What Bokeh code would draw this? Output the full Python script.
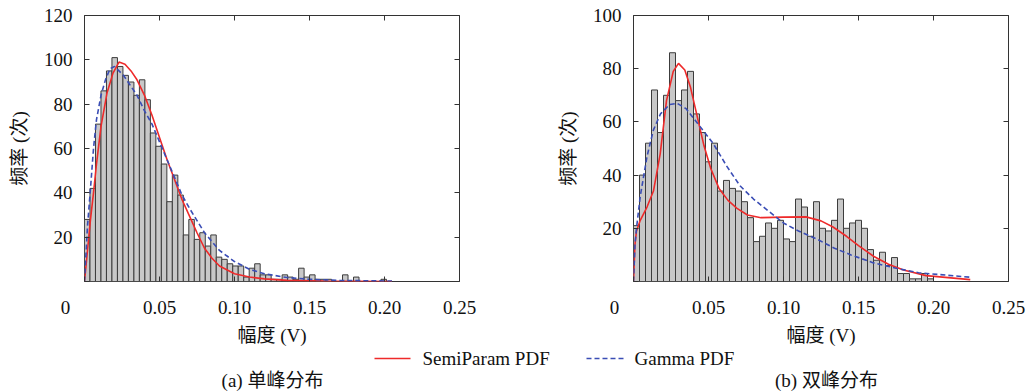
import numpy as np
from bokeh.plotting import figure
from bokeh.models import Range1d, LinearAxis, FixedTicker, ColumnDataSource, CustomJSTickFormatter
from bokeh.layouts import row, column
from bokeh.embed import file_html
from bokeh.resources import INLINE
from bokeh.core.properties import value

# ---------------- data ----------------
# (a) unimodal histogram
bin_width_a = 0.00366
counts_a = [28, 42, 71, 86, 95, 101, 97, 93, 90, 84,
            91, 82, 67, 61, 53, 36, 48, 39, 21, 28,
            19, 22, 16, 21, 11, 10, 8, 7, 7, 2,
            6, 8, 3, 3, 1, 1, 3, 2, 1, 6,
            2, 3, 1, 1, 1, 0, 0, 3, 0, 2,
            0, 0, 0, 0, 1]
semi_a_x = [0, 0.002, 0.004, 0.006, 0.008, 0.011, 0.015, 0.019, 0.023, 0.027,
            0.031, 0.035, 0.040, 0.045, 0.050, 0.055, 0.060, 0.065, 0.070, 0.075,
            0.080, 0.085, 0.090, 0.100, 0.110, 0.120, 0.135, 0.160, 0.205]
semi_a_y = [0, 14, 28, 40, 53, 70, 85, 94, 99, 98,
            95, 91, 84, 75, 65, 55, 46, 37, 29.5, 22,
            15, 10.5, 7, 3.5, 2, 1.2, 0.5, 0.2, 0]
gamma_a_x = [0, 0.002, 0.004, 0.006, 0.008, 0.011, 0.014, 0.017, 0.020, 0.023,
             0.026, 0.030, 0.035, 0.040, 0.045, 0.050, 0.055, 0.060, 0.065, 0.070,
             0.080, 0.090, 0.100, 0.110, 0.120, 0.135, 0.150, 0.170, 0.205]
gamma_a_y = [0, 25, 42, 60, 73, 84, 91, 96, 97, 95,
             93, 89, 84, 77, 71, 63, 55, 47, 39, 33,
             22, 14, 9, 5.5, 3.5, 1.8, 1, 0.5, 0.2]

# (b) bimodal histogram
bin_width_b = 0.004
counts_b = [21, 40, 52, 72, 56, 70, 86, 68, 72, 79,
            63, 56, 45, 52, 34, 38, 35, 34, 30, 24,
            15, 17, 22, 20, 23, 16, 15, 31, 28, 17,
            30, 20, 19, 23, 31, 20, 22, 23, 20, 12,
            8, 11, 6, 9, 3, 3, 1, 1, 3, 1]
semi_b_x = [0, 0.001, 0.002, 0.0045, 0.009, 0.0133, 0.0178, 0.022, 0.0265, 0.030,
            0.0342, 0.038, 0.0425, 0.047, 0.0515, 0.057, 0.063, 0.069, 0.076, 0.085,
            0.100, 0.115, 0.125, 0.133, 0.142, 0.150, 0.160, 0.170, 0.180, 0.195, 0.2245]
semi_b_y = [0, 14, 19, 23, 28, 34, 48, 68, 79, 82,
            79.5, 73, 62, 51, 42.5, 35, 30.5, 27.5, 25, 24,
            24.2, 24.3, 22.8, 20.5, 17, 13.5, 9.5, 6.5, 4.3, 2.2, 0.7]
gamma_b_x = [0, 0.001, 0.002, 0.0045, 0.009, 0.0133, 0.018, 0.024, 0.029, 0.035,
             0.044, 0.053, 0.062, 0.071, 0.080, 0.090, 0.100, 0.110, 0.122, 0.134,
             0.145, 0.160, 0.175, 0.190, 0.2245]
gamma_b_y = [0, 14, 20, 32, 47, 57, 63, 66.5, 67, 65,
             58.5, 52, 43.5, 36, 31, 26.5, 22, 19, 16, 12.5,
             10, 7, 5, 3.3, 1.6]

x_ticks = [0, 0.05, 0.10, 0.15, 0.20, 0.25]
y_ticks_a = [0, 20, 40, 60, 80, 100, 120]
y_ticks_b = [0, 20, 40, 60, 80, 100]
x_label = "幅度 (V)"
y_label = "频率 (次)"
legend_labels = ["SemiParam PDF", "Gamma PDF"]
captions = ["(a) 单峰分布", "(b) 双峰分布"]

# ---------------- style ----------------
FONT = "Liberation Serif, Noto Sans CJK SC"
FS = "19px"
RED = "#ee2a2a"
BLUE = "#3a4db5"
BAR_FILL = "#c8c8c8"
BAR_LINE = "#3c3c3c"
FRAME = "#333333"
TXT = "#111111"

x_fmt = CustomJSTickFormatter(code="""
if (tick == 0) { return "0\\u00a0\\u00a0\\u00a0\\u00a0\\u00a0\\u00a0\\u00a0\\u00a0"; }
return tick.toFixed(2);
""")
y_fmt = CustomJSTickFormatter(code="""
if (tick == 0) { return ""; }
return tick.toFixed(0);
""")
blank_fmt = CustomJSTickFormatter(code='return "";')


def make_panel(counts, bw, sx, sy, gx, gy, ymax, yticks, width, bl, br):
    p = figure(width=width, height=348, x_range=Range1d(0, 0.25), y_range=Range1d(0, ymax),
               min_border_left=bl, min_border_right=br, min_border_top=15, min_border_bottom=61,
               toolbar_location=None, output_backend="svg", title=None)
    p.grid.visible = False
    p.outline_line_color = FRAME
    p.outline_line_width = 1

    edges = np.arange(len(counts) + 1) * bw
    src = ColumnDataSource(dict(left=edges[:-1], right=edges[1:], top=counts))
    p.quad(left="left", right="right", bottom=0, top="top", source=src,
           fill_color=BAR_FILL, line_color=BAR_LINE, line_width=1)
    p.line(sx, sy, line_color=RED, line_width=1.6)
    p.line(gx, gy, line_color=BLUE, line_width=1.6, line_dash="5 3")

    for ax, ticks, fmt in ((p.xaxis[0], x_ticks, x_fmt), (p.yaxis[0], yticks, y_fmt)):
        ax.ticker = FixedTicker(ticks=ticks)
        ax.formatter = fmt
        ax.major_tick_in = 5
        ax.major_tick_out = 0
        ax.minor_tick_line_color = None
        ax.axis_line_color = None
        ax.major_tick_line_color = FRAME
        ax.major_label_text_font = FONT
        ax.major_label_text_font_size = FS
        ax.major_label_text_color = TXT
        ax.axis_label_text_font = FONT
        ax.axis_label_text_font_size = FS
        ax.axis_label_text_font_style = "normal"
        ax.axis_label_text_color = TXT
    p.xaxis[0].axis_label = x_label
    p.xaxis[0].major_label_standoff = 15
    p.xaxis[0].axis_label_standoff = 4
    p.yaxis[0].axis_label = y_label
    p.yaxis[0].major_label_standoff = 12
    p.yaxis[0].axis_label_standoff = 11

    for loc, ticks in (("above", x_ticks), ("right", yticks)):
        m = LinearAxis(ticker=FixedTicker(ticks=ticks), formatter=blank_fmt,
                       major_tick_in=5, major_tick_out=0, major_label_standoff=0,
                       minor_tick_line_color=None, axis_line_color=None,
                       major_tick_line_color=FRAME, major_label_text_font_size="1px")
        p.add_layout(m, loc)
    return p


pa = make_panel(counts_a, bin_width_a, semi_a_x, semi_a_y, gamma_a_x, gamma_a_y,
                120, y_ticks_a, 523, 84, 64)
pb = make_panel(counts_b, bin_width_b, semi_b_x, semi_b_y, gamma_b_x, gamma_b_y,
                100, y_ticks_b, 507, 110, 22)

# bottom strip: legend and sub-captions (coordinates = page pixels)
q = figure(width=1030, height=43, x_range=Range1d(0, 1030), y_range=Range1d(391, 348),
           min_border=0, toolbar_location=None, output_backend="svg", title=None,
           x_axis_type=None, y_axis_type=None)
q.grid.visible = False
q.outline_line_color = None
q.line([374, 410], [358, 358], line_color=RED, line_width=1.6)
q.line([586, 624], [358, 358], line_color=BLUE, line_width=1.6, line_dash="5 3")
q.text(x=[422, 634], y=[358, 358], text=legend_labels, text_align="left", text_baseline="middle",
       text_font=value(FONT), text_font_size=value(FS), text_color=TXT)
q.text(x=[272, 826], y=[380, 380], text=captions, text_align="center", text_baseline="middle",
       text_font=value(FONT), text_font_size=value(FS), text_color=TXT)

layout = column(row(pa, pb), q)
open("out.html", "w").write(file_html(layout, INLINE))
